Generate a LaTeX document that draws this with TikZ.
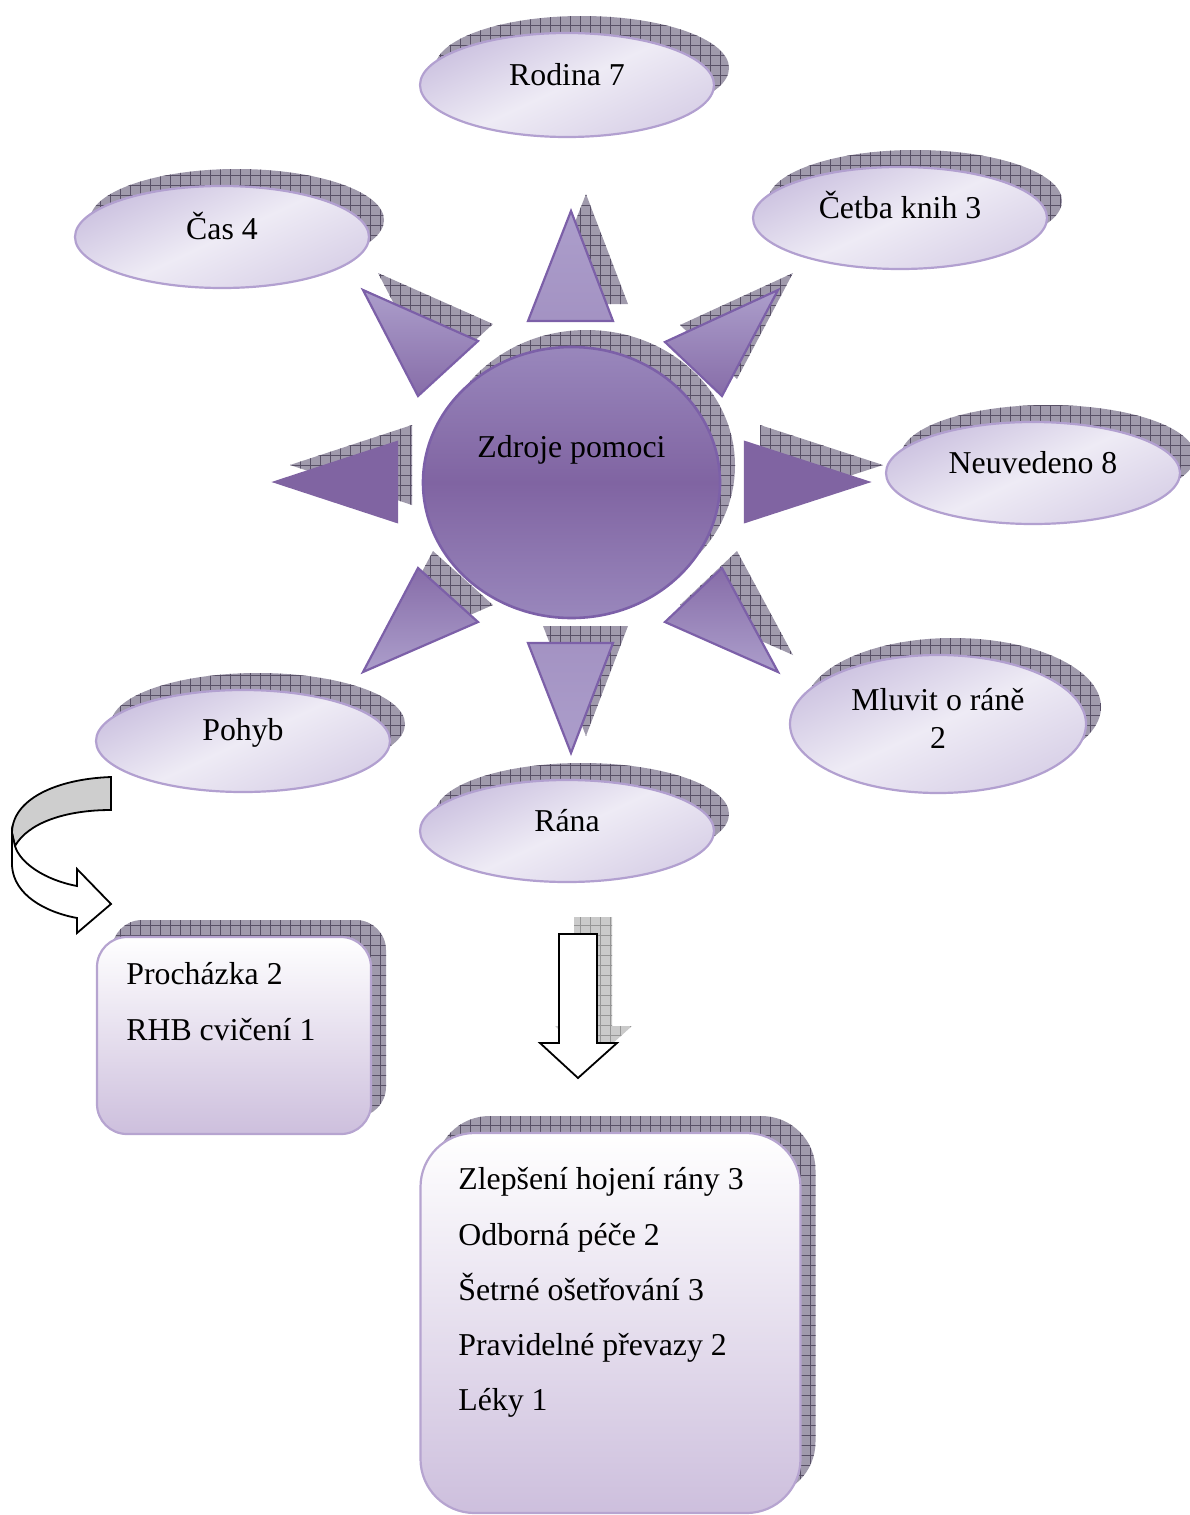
\documentclass[tikz,border=0pt]{standalone}
\usepackage{fontspec}
\setmainfont{Liberation Serif}
\usetikzlibrary{shapes.geometric,shadows,patterns.meta}
\definecolor{shbase}{RGB}{160,154,172}
\definecolor{shline}{RGB}{88,80,102}
\definecolor{arbase}{RGB}{202,202,202}
\definecolor{arline}{RGB}{150,150,150}
\definecolor{ellline}{RGB}{178,160,208}
\definecolor{ellA}{RGB}{204,194,224}
\definecolor{ellB}{RGB}{238,235,245}
\definecolor{ellC}{RGB}{216,208,231}
\definecolor{hublight}{RGB}{153,135,188}
\definecolor{hubmid}{RGB}{128,100,162}
\definecolor{hubline}{RGB}{124,96,168}
\definecolor{trilight}{RGB}{172,158,203}
\definecolor{boxbot}{RGB}{205,191,221}
\definecolor{boxline}{RGB}{182,164,208}
\definecolor{bandgray}{RGB}{206,206,206}
\begin{document}
\begin{tikzpicture}[x=0.5pt,y=-0.5pt,
  txt/.style={font=\fontsize{15.9}{19}\selectfont, inner sep=0pt},
  lbl/.style={txt, yshift=5.4pt},
  textline/.style={txt, anchor=base west},
  hatched/.style={
    general shadow={shadow xshift=7.5pt,shadow yshift=8.5pt,fill=#1base,draw=none},
    general shadow={shadow xshift=7.5pt,shadow yshift=8.5pt,draw=none,
      pattern={Hatch[distance=5pt,line width=0.45pt]},pattern color=#1line}},
  hatched/.default=sh,
  ell/.style={ellipse, draw=ellline, line width=1.1pt, inner sep=0pt,
    minimum width=147pt, minimum height=51pt,
    top color=ellA, bottom color=ellC, middle color=ellB, shading angle=25, hatched},
  hub/.style={ellipse, draw=hubline, line width=1.3pt, inner sep=0pt,
    minimum width=148.5pt, minimum height=135.5pt,
    top color=hublight, bottom color=hublight, middle color=hubmid, hatched},
  tri/.style={draw=hubline, line width=1.1pt, line join=miter, hatched},
  card/.style={rectangle, draw=boxline, line width=1.1pt, inner sep=0pt,
    top color=white, bottom color=boxbot, hatched},
  blockarrow/.style={draw=black, line width=0.9pt, line join=miter},
]
\useasboundingbox (0,0) rectangle (1189,1515);

% rays
\path[tri, top color=trilight, bottom color=trilight!80!hubmid]
  (571,211) -- (528,321) -- (613,321) -- cycle;
\path[tri, top color=trilight, bottom color=hubmid!85!trilight]
  (363,290) -- (478,341) -- (418,396) -- cycle;
\path[tri, top color=trilight, bottom color=hubmid!85!trilight]
  (778,290) -- (665,342) -- (722,396) -- cycle;
\path[tri, fill=hubmid, draw=hubmid]
  (275,482) -- (397,442) -- (397,522) -- cycle;
\path[tri, fill=hubmid, draw=hubmid]
  (868,482) -- (745,442) -- (745,522) -- cycle;
\path[tri, top color=hubmid!85!trilight, bottom color=trilight]
  (363,672) -- (478,622) -- (418,568) -- cycle;
\path[tri, top color=hubmid!85!trilight, bottom color=trilight]
  (778,672) -- (665,622) -- (722,568) -- cycle;
\path[tri, top color=trilight!80!hubmid, bottom color=trilight]
  (571,753) -- (528,643) -- (613,643) -- cycle;

% centre
\node[hub, label={[txt,yshift=16.3pt]center:Zdroje pomoci}] (hub) at (571.5,482.5) {};

% outer ellipses
\node[ell, minimum height=52pt, label={[lbl]center:Rodina 7}] (rodina) at (567,85) {};
\node[ell, label={[lbl]center:Čas 4}] (cas) at (222,237) {};
\node[ell, label={[lbl,yshift=1pt]center:Četba knih 3}] (cetba) at (900,218) {};
\node[ell, label={[lbl]center:Neuvedeno 8}] (neuv) at (1033,473) {};
\node[ell, minimum width=148pt, minimum height=69pt,
  label={[txt,align=center,yshift=3pt]center:Mluvit o ráně\\2}] (mluvit) at (938,724) {};
\node[ell, label={[lbl,yshift=-1.5pt]center:Pohyb}] (pohyb) at (243,741) {};
\node[ell, label={[lbl]center:Rána}] (rana) at (567,831) {};

% curved arrow from Pohyb
\coordinate (c1) at (111,777);
\coordinate (c2) at (111,810);
\path[blockarrow, fill=bandgray]
  (c1) .. controls (55,779) and (12,800) .. (12,833) -- (15,846)
  .. controls (28,823) and (65,810) .. (c2) -- cycle;
\path[blockarrow, fill=white]
  (12,833) -- (12,866) .. controls (14,895) and (45,912) .. (77,918)
  -- (77,933) -- (111,904) -- (77,869) -- (77,886)
  .. controls (45,880) and (20,863) .. (15,846) -- cycle;

% straight arrow from Rana
\path[blockarrow, fill=white, hatched=ar]
  (559,934) -- (597,934) -- (597,1043) -- (617,1043) -- (578,1078)
  -- (540,1043) -- (559,1043) -- cycle;

% boxes
\node[card, minimum width=137pt, minimum height=98.5pt, rounded corners=15pt] (walkbox) at (234,1035.5) {};
\node[textline] (w1) at (126,984) {Procházka 2};
\node[textline] (w2) at (126,1040) {RHB cvičení 1};

\node[card, minimum width=190pt, minimum height=190pt, rounded corners=27pt] (carebox) at (610.5,1323) {};
\node[textline] (k1) at (458,1189) {Zlepšení hojení rány 3};
\node[textline] (k2) at (458,1245) {Odborná péče 2};
\node[textline] (k3) at (458,1300) {Šetrné ošetřování 3};
\node[textline] (k4) at (458,1355) {Pravidelné převazy 2};
\node[textline] (k5) at (458,1410) {Léky 1};
\end{tikzpicture}
\end{document}
